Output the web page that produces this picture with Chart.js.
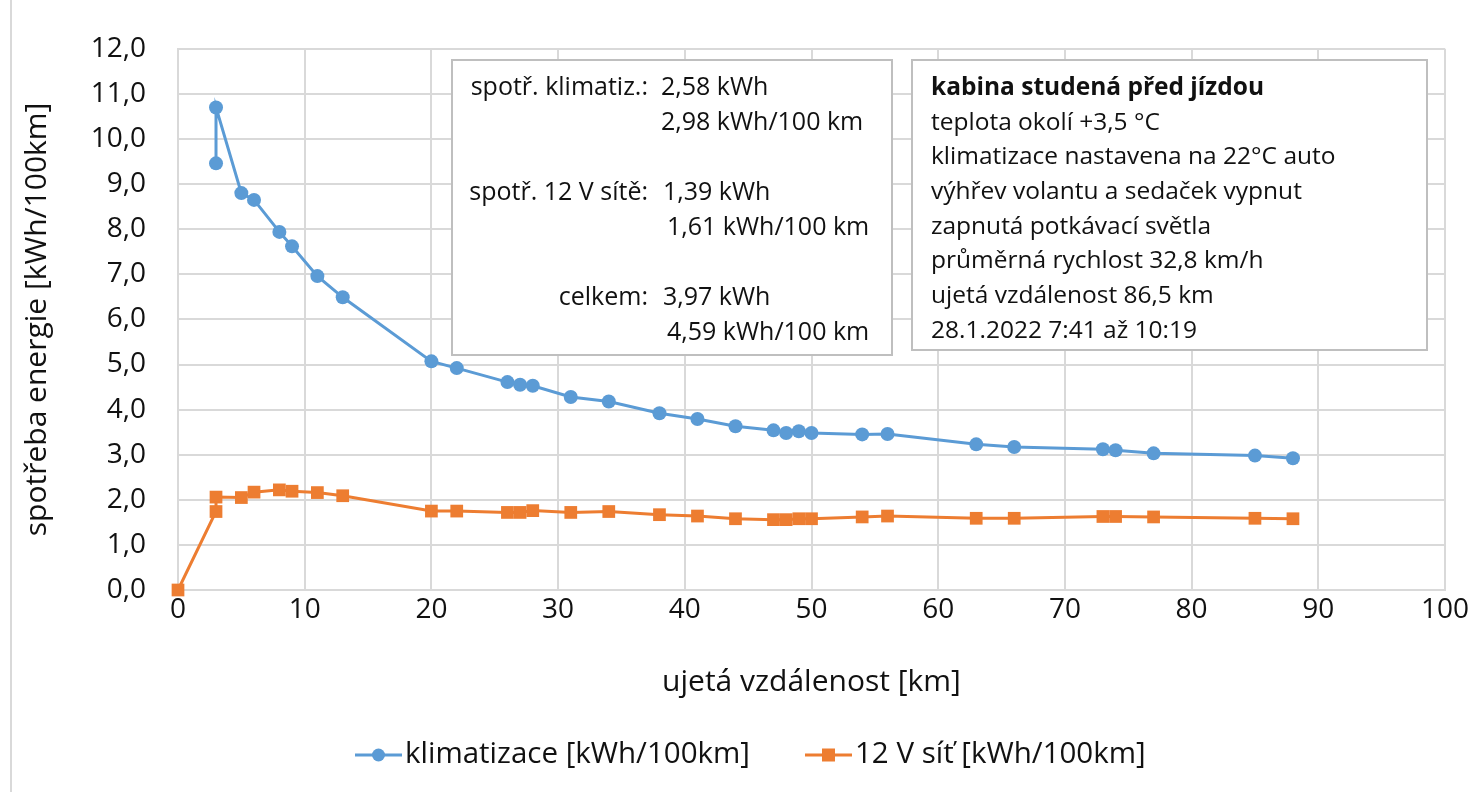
<!DOCTYPE html>
<html><head><meta charset="utf-8">
<script src="https://cdn.jsdelivr.net/npm/chart.js@4.4.1/dist/chart.umd.min.js"></script>
<style>
html,body{margin:0;padding:0;background:#fff;}
#wrap{position:relative;width:1481px;height:792px;overflow:hidden;}
#edge{position:absolute;left:10px;top:0;width:2px;height:792px;background:#d9d9d9;}
canvas{position:absolute;left:0;top:0;}
</style></head><body>
<div id="wrap"><canvas id="c" width="1481" height="792"></canvas><div id="edge"></div></div>
<script>
// ---- data ----
const distKlima = [3,3,5,6,8,9,11,13,20,22,26,27,28,31,34,38,41,44,47,48,49,50,54,56,63,66,73,74,77,85,88];
const klima = [9.46,10.70,8.80,8.65,7.94,7.62,6.96,6.49,5.07,4.92,4.61,4.55,4.53,4.28,4.18,3.92,3.79,3.63,3.54,3.48,3.52,3.48,3.45,3.46,3.23,3.17,3.12,3.10,3.03,2.98,2.92];
const dist12V = [0,3,3,5,6,8,9,11,13,20,22,26,27,28,31,34,38,41,44,47,48,49,50,54,56,63,66,73,74,77,85,88];
const sit12V = [0,1.74,2.06,2.05,2.17,2.22,2.19,2.16,2.09,1.75,1.75,1.72,1.72,1.76,1.72,1.74,1.67,1.64,1.58,1.56,1.56,1.58,1.58,1.62,1.64,1.59,1.59,1.63,1.63,1.62,1.59,1.58];
const seriesNames = ['klimatizace [kWh/100km]','12 V síť [kWh/100km]'];
const xTitle = 'ujetá vzdálenost [km]';
const yTitle = 'spotřeba energie [kWh/100km]';
const statsLabels = ['spotř. klimatiz.:','','','spotř. 12 V sítě:','','','celkem:',''];
const statsValues = ['2,58 kWh','2,98 kWh/100 km','','1,39 kWh','1,61 kWh/100 km','','3,97 kWh','4,59 kWh/100 km'];
const infoTitle = 'kabina studená před jízdou';
const infoLines = ['teplota okolí +3,5 °C','klimatizace nastavena na 22°C auto','výhřev volantu a sedaček vypnut','zapnutá potkávací světla','průměrná rychlost 32,8 km/h','ujetá vzdálenost 86,5 km','28.1.2022 7:41 až 10:19'];

const BLUE = '#5b9bd5', ORANGE = '#ed7d31', TXT = '#111111', GRID = '#d9d9d9';
const FONT = "'Open Sans', sans-serif";
Chart.defaults.font.family = FONT;
Chart.defaults.color = TXT;

const toPts = (xs, ys) => xs.map((x, i) => ({x, y: ys[i]}));

const boxesPlugin = {
  id: 'boxes',
  beforeDatasetsDraw(chart) {
    const ctx = chart.ctx;
    ctx.save();
    ctx.fillStyle = '#fff'; ctx.strokeStyle = '#bfbfbf'; ctx.lineWidth = 2;
    ctx.fillRect(452, 60, 440, 295); ctx.strokeRect(452, 60, 440, 295);
    ctx.fillRect(912, 60, 515, 290); ctx.strokeRect(912, 60, 515, 290);
    ctx.fillStyle = TXT; ctx.textBaseline = 'middle';
    ctx.font = "25px " + FONT;
    const valX = [661, 661, 661, 663, 667, 661, 663, 667];
    for (let i = 0; i < statsLabels.length; i++) {
      const y = 88 + i * 35;
      if (statsLabels[i]) { ctx.textAlign = 'right'; ctx.fillText(statsLabels[i], 648, y); }
      if (statsValues[i]) { ctx.textAlign = 'left'; ctx.fillText(statsValues[i], valX[i], y); }
    }
    ctx.textAlign = 'left';
    ctx.font = "bold 24.5px " + FONT;
    ctx.fillText(infoTitle, 931, 88);
    ctx.font = "24.5px " + FONT;
    infoLines.forEach((t, i) => ctx.fillText(t, 931, 88 + (i + 1) * 34.7));
    ctx.restore();
  }
};

const legendPlugin = {
  id: 'xlLegend',
  afterDraw(chart) {
    const ctx = chart.ctx;
    ctx.save();
    ctx.font = "29.5px " + FONT;
    ctx.textBaseline = 'middle'; ctx.textAlign = 'left';
    const y = 755;
    let x = 355;
    chart.data.datasets.forEach((ds, i) => {
      ctx.strokeStyle = ds.borderColor; ctx.lineWidth = 3;
      ctx.beginPath(); ctx.moveTo(x, y); ctx.lineTo(x + 47, y); ctx.stroke();
      ctx.fillStyle = ds.pointBackgroundColor;
      if (ds.pointStyle === 'rect') { ctx.fillRect(x + 23.5 - 6.5, y - 6.5, 13, 13); }
      else { ctx.beginPath(); ctx.arc(x + 23.5, y, 6.5, 0, Math.PI * 2); ctx.fill(); }
      ctx.fillStyle = TXT;
      ctx.fillText(ds.label, x + 50, y);
      x += 50 + ctx.measureText(ds.label).width + 55;
    });
    ctx.restore();
  }
};

new Chart(document.getElementById('c'), {
  type: 'line',
  data: {
    datasets: [
      {label: seriesNames[0], data: toPts(distKlima, klima), borderColor: BLUE, backgroundColor: BLUE, clip: false,
       pointBackgroundColor: BLUE, pointBorderColor: BLUE, pointStyle: 'circle', pointRadius: 7, borderWidth: 3, pointBorderWidth: 0},
      {label: seriesNames[1], data: toPts(dist12V, sit12V), borderColor: ORANGE, backgroundColor: ORANGE, clip: false,
       pointBackgroundColor: ORANGE, pointBorderColor: ORANGE, pointStyle: 'rect', pointRadius: 9, borderWidth: 3, pointBorderWidth: 0}
    ]
  },
  options: {
    responsive: false, animation: false,
    layout: {padding: {left: 0, right: 36, top: 47, bottom: 72}},
    plugins: {legend: {display: false}, tooltip: {enabled: false}},
    elements: {line: {tension: 0, fill: false}},
    scales: {
      x: {type: 'linear', min: 0, max: 100,
        ticks: {stepSize: 10, font: {size: 28}, color: TXT, padding: 3, maxRotation: 0},
        grid: {color: GRID, lineWidth: 2, drawTicks: false},
        border: {color: GRID, width: 2},
        title: {display: true, text: xTitle, font: {size: 30}, color: TXT, padding: {top: 0, bottom: 20}},
        afterFit(s) { s.height = 130; }
      },
      y: {type: 'linear', min: 0, max: 12,
        ticks: {stepSize: 1, font: {size: 28}, color: TXT, padding: 32,
          callback: v => v.toFixed(1).replace('.', ',')},
        grid: {color: GRID, lineWidth: 2, drawTicks: false},
        border: {color: GRID, width: 2},
        title: {display: true, text: yTitle, font: {size: 30}, color: TXT, padding: {top: 19, bottom: 0}},
        afterFit(s) { s.width = 178; }
      }
    }
  },
  plugins: [boxesPlugin, legendPlugin]
});
</script>
</body></html>
